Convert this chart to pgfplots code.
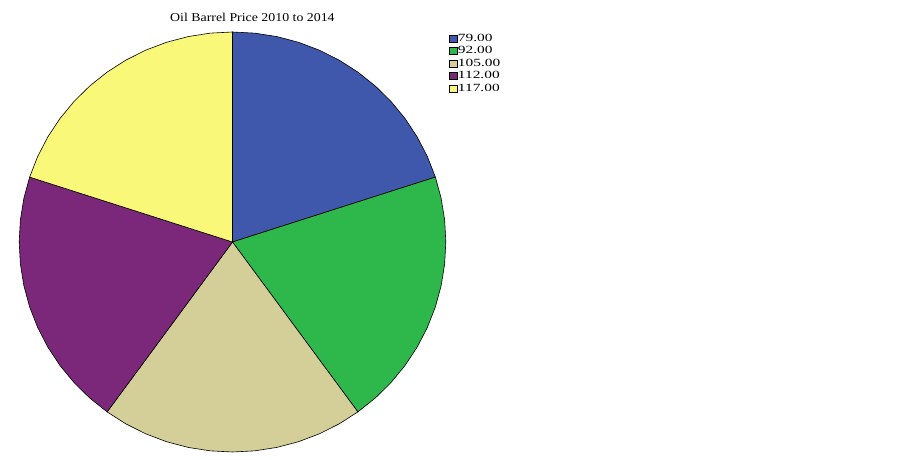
\documentclass[border=0pt]{standalone}
\usepackage{fontspec}
\setmainfont{Liberation Serif}
\newfontfamily\titlefont[FakeStretch=1.155]{Liberation Serif}
\newfontfamily\legfont[FakeStretch=1.4]{Liberation Serif}
\usepackage{pgfplots}
\pgfplotsset{compat=1.18}

\definecolor{sblue}{HTML}{3F58AB}
\definecolor{sgreen}{HTML}{2EB84B}
\definecolor{stan}{HTML}{D4CF98}
\definecolor{spurple}{HTML}{7B287B}
\definecolor{syellow}{HTML}{FAF878}

\begin{document}
\begin{tikzpicture}
\begin{axis}[
    scale only axis,
    width=902pt, height=460pt,
    xmin=-228.9, xmax=659.1,
    ymin=-218, ymax=242,
    hide axis,
    clip=false,
    legend cell align=left,
    legend image code/.code={\draw[#1,draw=black,line width=0.4pt] (0pt,-3.5pt) rectangle (7.5pt,3.5pt);},
    legend style={at={(rel axis cs:0.4978,0.9283)}, anchor=north west, draw=none, fill=none,
        font=\legfont\fontsize{11}{11}\selectfont, inner sep=0pt, row sep=2pt,
        nodes={inner xsep=0.8pt, inner ysep=0pt, text height=8pt, text depth=2.5pt}},
]
% slices: each 20% of the pie, radius 210, clockwise from the top
\addplot[data cs=polar, fill=sblue, draw=black, line width=0.6pt] coordinates {
(0,0)(90,210)(84,210)(78,210)(72,210)(66,210)(60,210)(54,210)(48,210)(42,210)(36,210)(30,210)(24,210)(18,210)(0,0)};
\addplot[data cs=polar, fill=sgreen, draw=black, line width=0.6pt] coordinates {
(0,0)(18,210)(12,210)(6,210)(0,210)(-6,210)(-12,210)(-18,210)(-24,210)(-30,210)(-36,210)(-42,210)(-48,210)(-54,210)(0,0)};
\addplot[data cs=polar, fill=stan, draw=black, line width=0.6pt] coordinates {
(0,0)(-54,210)(-60,210)(-66,210)(-72,210)(-78,210)(-84,210)(-90,210)(-96,210)(-102,210)(-108,210)(-114,210)(-120,210)(-126,210)(0,0)};
\addplot[data cs=polar, fill=spurple, draw=black, line width=0.6pt] coordinates {
(0,0)(234,210)(228,210)(222,210)(216,210)(210,210)(204,210)(198,210)(192,210)(186,210)(180,210)(174,210)(168,210)(162,210)(0,0)};
\addplot[data cs=polar, fill=syellow, draw=black, line width=0.6pt] coordinates {
(0,0)(162,210)(156,210)(150,210)(144,210)(138,210)(132,210)(126,210)(120,210)(114,210)(108,210)(102,210)(96,210)(90,210)(0,0)};
\legend{79.00,92.00,105.00,112.00,117.00}
\node[anchor=west, font=\titlefont\fontsize{12}{12}\selectfont, inner sep=0pt] at (rel axis cs:0.1885,0.963) {Oil Barrel Price 2010 to 2014};
\end{axis}
\path (current axis.south west) rectangle (current axis.north east);
\end{tikzpicture}
\end{document}
